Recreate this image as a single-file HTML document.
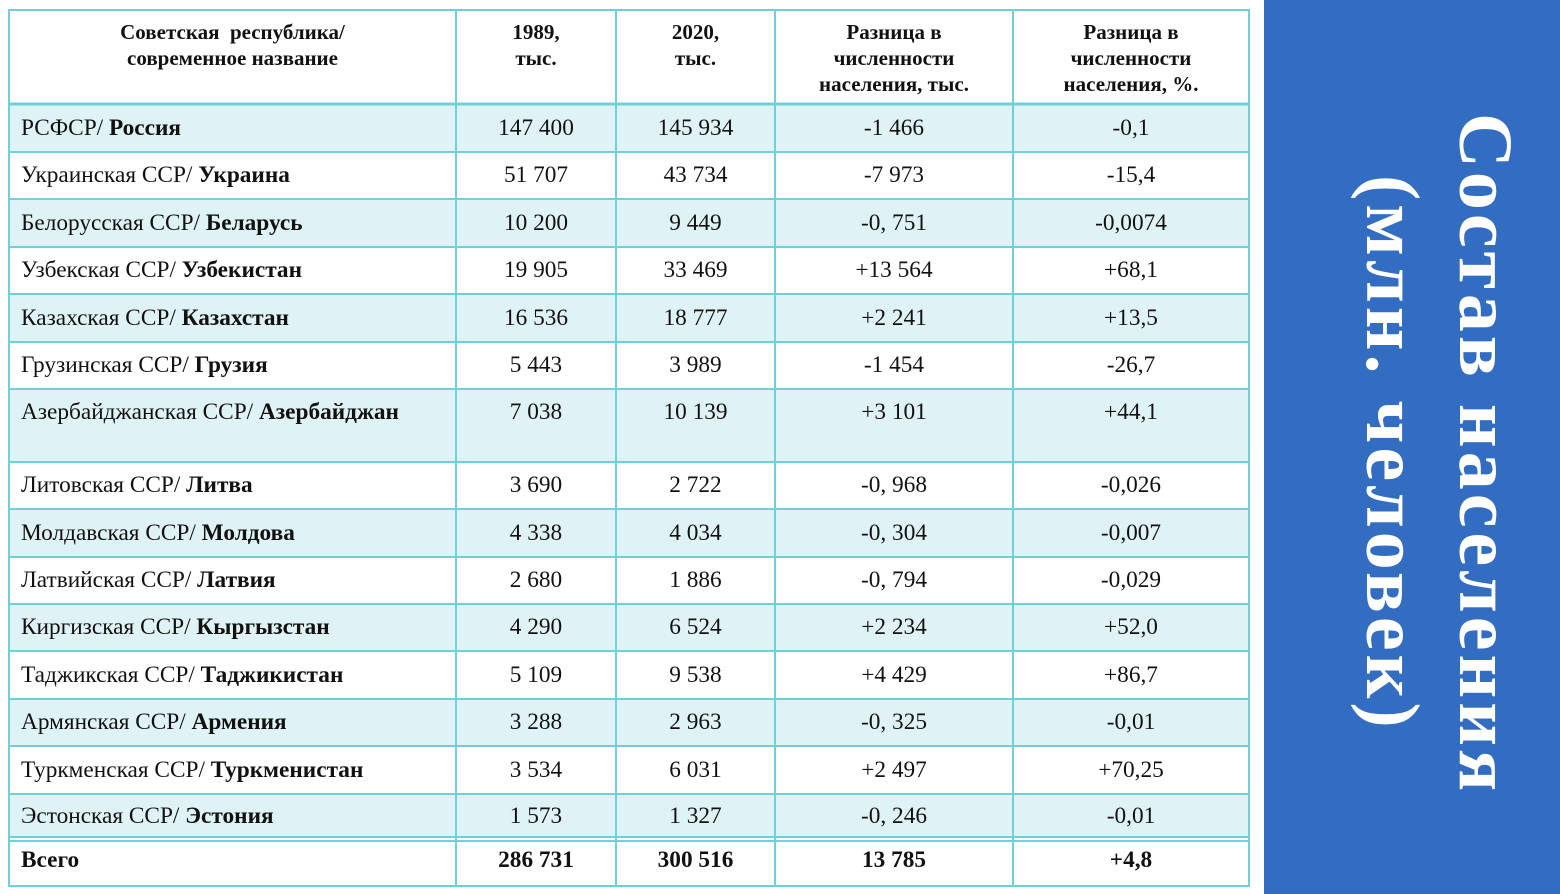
<!DOCTYPE html>
<html><head><meta charset="utf-8"><style>
body{margin:0;width:1560px;height:894px;background:#fff;position:relative;overflow:hidden;font-family:"Liberation Serif",serif;}
.c{position:absolute;box-sizing:border-box;font-size:23.3px;color:#111;display:flex;align-items:center;justify-content:center;white-space:nowrap;}
.l{justify-content:flex-start;padding-left:12px;}
.h{font-weight:bold;font-size:21px;text-align:center;line-height:26px;align-items:flex-start;padding-top:7px;}
.b{font-weight:bold;}
#panel{position:absolute;left:1264px;top:0;width:296px;height:894px;background:#336dc1;}
#vt{position:absolute;left:1345px;top:113px;height:680px;writing-mode:vertical-rl;text-align:center;color:#fff;font-weight:bold;font-size:76px;line-height:93px;letter-spacing:4px;white-space:pre;font-family:"Liberation Serif",serif;}
</style></head><body>
<svg style="position:absolute;left:0;top:0" width="1260" height="894">
<rect x="0" y="104" width="1250" height="48" fill="#dff3f6"/>
<rect x="0" y="199" width="1250" height="48" fill="#dff3f6"/>
<rect x="0" y="294" width="1250" height="48" fill="#dff3f6"/>
<rect x="0" y="389" width="1250" height="73" fill="#dff3f6"/>
<rect x="0" y="509" width="1250" height="48" fill="#dff3f6"/>
<rect x="0" y="604" width="1250" height="47" fill="#dff3f6"/>
<rect x="0" y="699" width="1250" height="47" fill="#dff3f6"/>
<rect x="0" y="794" width="1250" height="43" fill="#dff3f6"/>
<rect x="0" y="0" width="9" height="894" fill="#fff"/>
<g stroke="#6fd0d8" stroke-width="2" fill="none">
<rect x="9" y="10" width="1240" height="876"/>
<line x1="9" y1="104" x2="1249" y2="104" stroke-width="3"/>
<line x1="9" y1="152" x2="1249" y2="152"/><line x1="9" y1="199" x2="1249" y2="199"/>
<line x1="9" y1="247" x2="1249" y2="247"/><line x1="9" y1="294" x2="1249" y2="294"/>
<line x1="9" y1="342" x2="1249" y2="342"/><line x1="9" y1="389" x2="1249" y2="389"/>
<line x1="9" y1="462" x2="1249" y2="462"/><line x1="9" y1="509" x2="1249" y2="509"/>
<line x1="9" y1="557" x2="1249" y2="557"/><line x1="9" y1="604" x2="1249" y2="604"/>
<line x1="9" y1="651" x2="1249" y2="651"/><line x1="9" y1="699" x2="1249" y2="699"/>
<line x1="9" y1="746" x2="1249" y2="746"/><line x1="9" y1="794" x2="1249" y2="794"/>
<line x1="9" y1="837" x2="1249" y2="837"/><line x1="9" y1="841" x2="1249" y2="841"/>
<line x1="456" y1="10" x2="456" y2="886"/><line x1="616" y1="10" x2="616" y2="886"/>
<line x1="775" y1="10" x2="775" y2="886"/><line x1="1013" y1="10" x2="1013" y2="886"/>
</g></svg>
<div class="c h" style="left:9px;top:12px;width:447px;height:92px">Советская&nbsp; республика/<br>современное название</div>
<div class="c h" style="left:456px;top:12px;width:160px;height:92px">1989,<br>тыс.</div>
<div class="c h" style="left:616px;top:12px;width:159px;height:92px">2020,<br>тыс.</div>
<div class="c h" style="left:775px;top:12px;width:238px;height:92px">Разница в<br>численности<br>населения, тыс.</div>
<div class="c h" style="left:1013px;top:12px;width:236px;height:92px">Разница в<br>численности<br>населения, %.</div>
<div id="rows"></div>
<script>
var d=[["РСФСР/ ","Россия","147 400","145 934","-1 466","-0,1",104,48],
["Украинская ССР/ ","Украина","51 707","43 734","-7 973","-15,4",152,47],
["Белорусская ССР/ ","Беларусь","10 200","9 449","-0, 751","-0,0074",199,48],
["Узбекская ССР/ ","Узбекистан","19 905","33 469","+13 564","+68,1",247,47],
["Казахская ССР/ ","Казахстан","16 536","18 777","+2 241","+13,5",294,48],
["Грузинская ССР/ ","Грузия","5 443","3 989","-1 454","-26,7",342,47],
["Азербайджанская ССР/ ","Азербайджан","7 038","10 139","+3 101","+44,1",389,47],
["Литовская ССР/ ","Литва","3 690","2 722","-0, 968","-0,026",462,47],
["Молдавская ССР/ ","Молдова","4 338","4 034","-0, 304","-0,007",509,48],
["Латвийская ССР/ ","Латвия","2 680","1 886","-0, 794","-0,029",557,47],
["Киргизская ССР/ ","Кыргызстан","4 290","6 524","+2 234","+52,0",604,47],
["Таджикская ССР/ ","Таджикистан","5 109","9 538","+4 429","+86,7",651,48],
["Армянская ССР/ ","Армения","3 288","2 963","-0, 325","-0,01",699,47],
["Туркменская ССР/ ","Туркменистан","3 534","6 031","+2 497","+70,25",746,48],
["Эстонская ССР/ ","Эстония","1 573","1 327","-0, 246","-0,01",794,44]];
var xs=[[456,160],[616,159],[775,238],[1013,236]],h="";
d.forEach(function(r){h+='<div class="c l" style="left:9px;top:'+r[6]+'px;width:447px;height:'+r[7]+'px">'+r[0]+'<b>&nbsp;'+r[1]+'</b></div>';
for(var i=0;i<4;i++)h+='<div class="c" style="left:'+xs[i][0]+'px;top:'+r[6]+'px;width:'+xs[i][1]+'px;height:'+r[7]+'px">'+r[2+i]+'</div>';});
var t=["286 731","300 516","13 785","+4,8"];
h+='<div class="c l b" style="left:9px;top:840px;width:447px;height:40px">Всего</div>';
for(var i=0;i<4;i++)h+='<div class="c b" style="left:'+xs[i][0]+'px;top:840px;width:'+xs[i][1]+'px;height:40px">'+t[i]+'</div>';
document.getElementById('rows').innerHTML=h;
</script>
<div id="panel"></div>
<div id="vt">Состав населения
(млн. человек)</div>
</body></html>
